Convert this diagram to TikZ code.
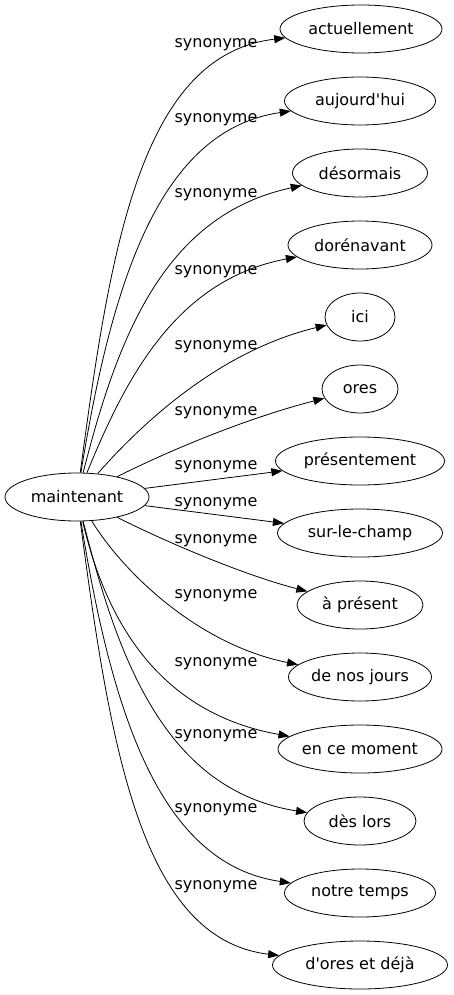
\documentclass[tikz,border=0pt]{standalone}
\usepackage{fontspec}
\setmainfont{DejaVu Sans}
\usetikzlibrary{shapes.geometric,arrows.meta}
\begin{document}
\begin{tikzpicture}[x=1pt,y=-1pt,
  word/.style={draw,line width=0.8pt,ellipse,inner sep=0pt,minimum height=48pt,font=\fontsize{16}{19}\selectfont},
  lbl/.style={font=\fontsize{16}{19}\selectfont,inner sep=0pt},
  syn/.style={draw,line width=0.8pt,-{Triangle[length=11pt,width=8pt]}}]
\useasboundingbox (0,0) rectangle (453,995);
\node[word,minimum width=144pt] (m) at (77,497) {maintenant};
\node[word,minimum width=162pt] (t1) at (361,29) {actuellement};
\node[word,minimum width=151pt] (t2) at (360,101) {aujourd\textquotesingle hui};
\node[word,minimum width=135pt] (t3) at (360,173) {désormais};
\node[word,minimum width=144pt] (t4) at (360,245) {dorénavant};
\node[word,minimum width=70pt] (t5) at (360,317) {ici};
\node[word,minimum width=76pt] (t6) at (360,389) {ores};
\node[word,minimum width=169pt] (t7) at (360,461) {présentement};
\node[word,minimum width=165pt] (t8) at (360,533) {sur-le-champ};
\node[word,minimum width=126pt] (t9) at (360,605) {à présent};
\node[word,minimum width=143pt] (t10) at (360,677) {de nos jours};
\node[word,minimum width=164pt] (t11) at (360,749) {en ce moment};
\node[word,minimum width=112pt] (t12) at (360,821) {dès lors};
\node[word,minimum width=151pt] (t13) at (360,893) {notre temps};
\node[word,minimum width=175pt] (t14) at (360,965) {d\textquotesingle ores et déjà};

\draw[syn] (m) .. controls (110,250) and (140,55) .. (t1);
\draw[syn] (m) .. controls (112,280) and (160,130) .. (t2);
\draw[syn] (m) .. controls (118,335) and (165,215) .. (t3);
\draw[syn] (m) .. controls (125,380) and (175,280) .. (t4);
\draw[syn] (m) .. controls (137,429) and (215,352) .. (t5);
\draw[syn] (m) .. controls (160,455) and (240,420) .. (t6);
\draw[syn] (m) -- (t7);
\draw[syn] (m) -- (t8);
\draw[syn] (m) .. controls (160,539) and (240,574) .. (t9);
\draw[syn] (m) .. controls (125,575) and (200,645) .. (t10);
\draw[syn] (m) .. controls (108,630) and (165,714) .. (t11);
\draw[syn] (m) .. controls (118,659) and (165,790) .. (t12);
\draw[syn] (m) .. controls (112,714) and (160,864) .. (t13);
\draw[syn] (m) .. controls (110,744) and (140,939) .. (t14);

\node[lbl] (l1) at (216,45) {synonyme};
\node[lbl] (l2) at (216,120) {synonyme};
\node[lbl] (l3) at (216,195) {synonyme};
\node[lbl] (l4) at (216,272) {synonyme};
\node[lbl] (l5) at (216,347) {synonyme};
\node[lbl] (l6) at (216,413) {synonyme};
\node[lbl] (l7) at (216,467) {synonyme};
\node[lbl] (l8) at (216,504) {synonyme};
\node[lbl] (l9) at (216,541) {synonyme};
\node[lbl] (l10) at (216,596) {synonyme};
\node[lbl] (l11) at (216,664) {synonyme};
\node[lbl] (l12) at (216,736) {synonyme};
\node[lbl] (l13) at (216,810) {synonyme};
\node[lbl] (l14) at (216,887) {synonyme};
\end{tikzpicture}
\end{document}
